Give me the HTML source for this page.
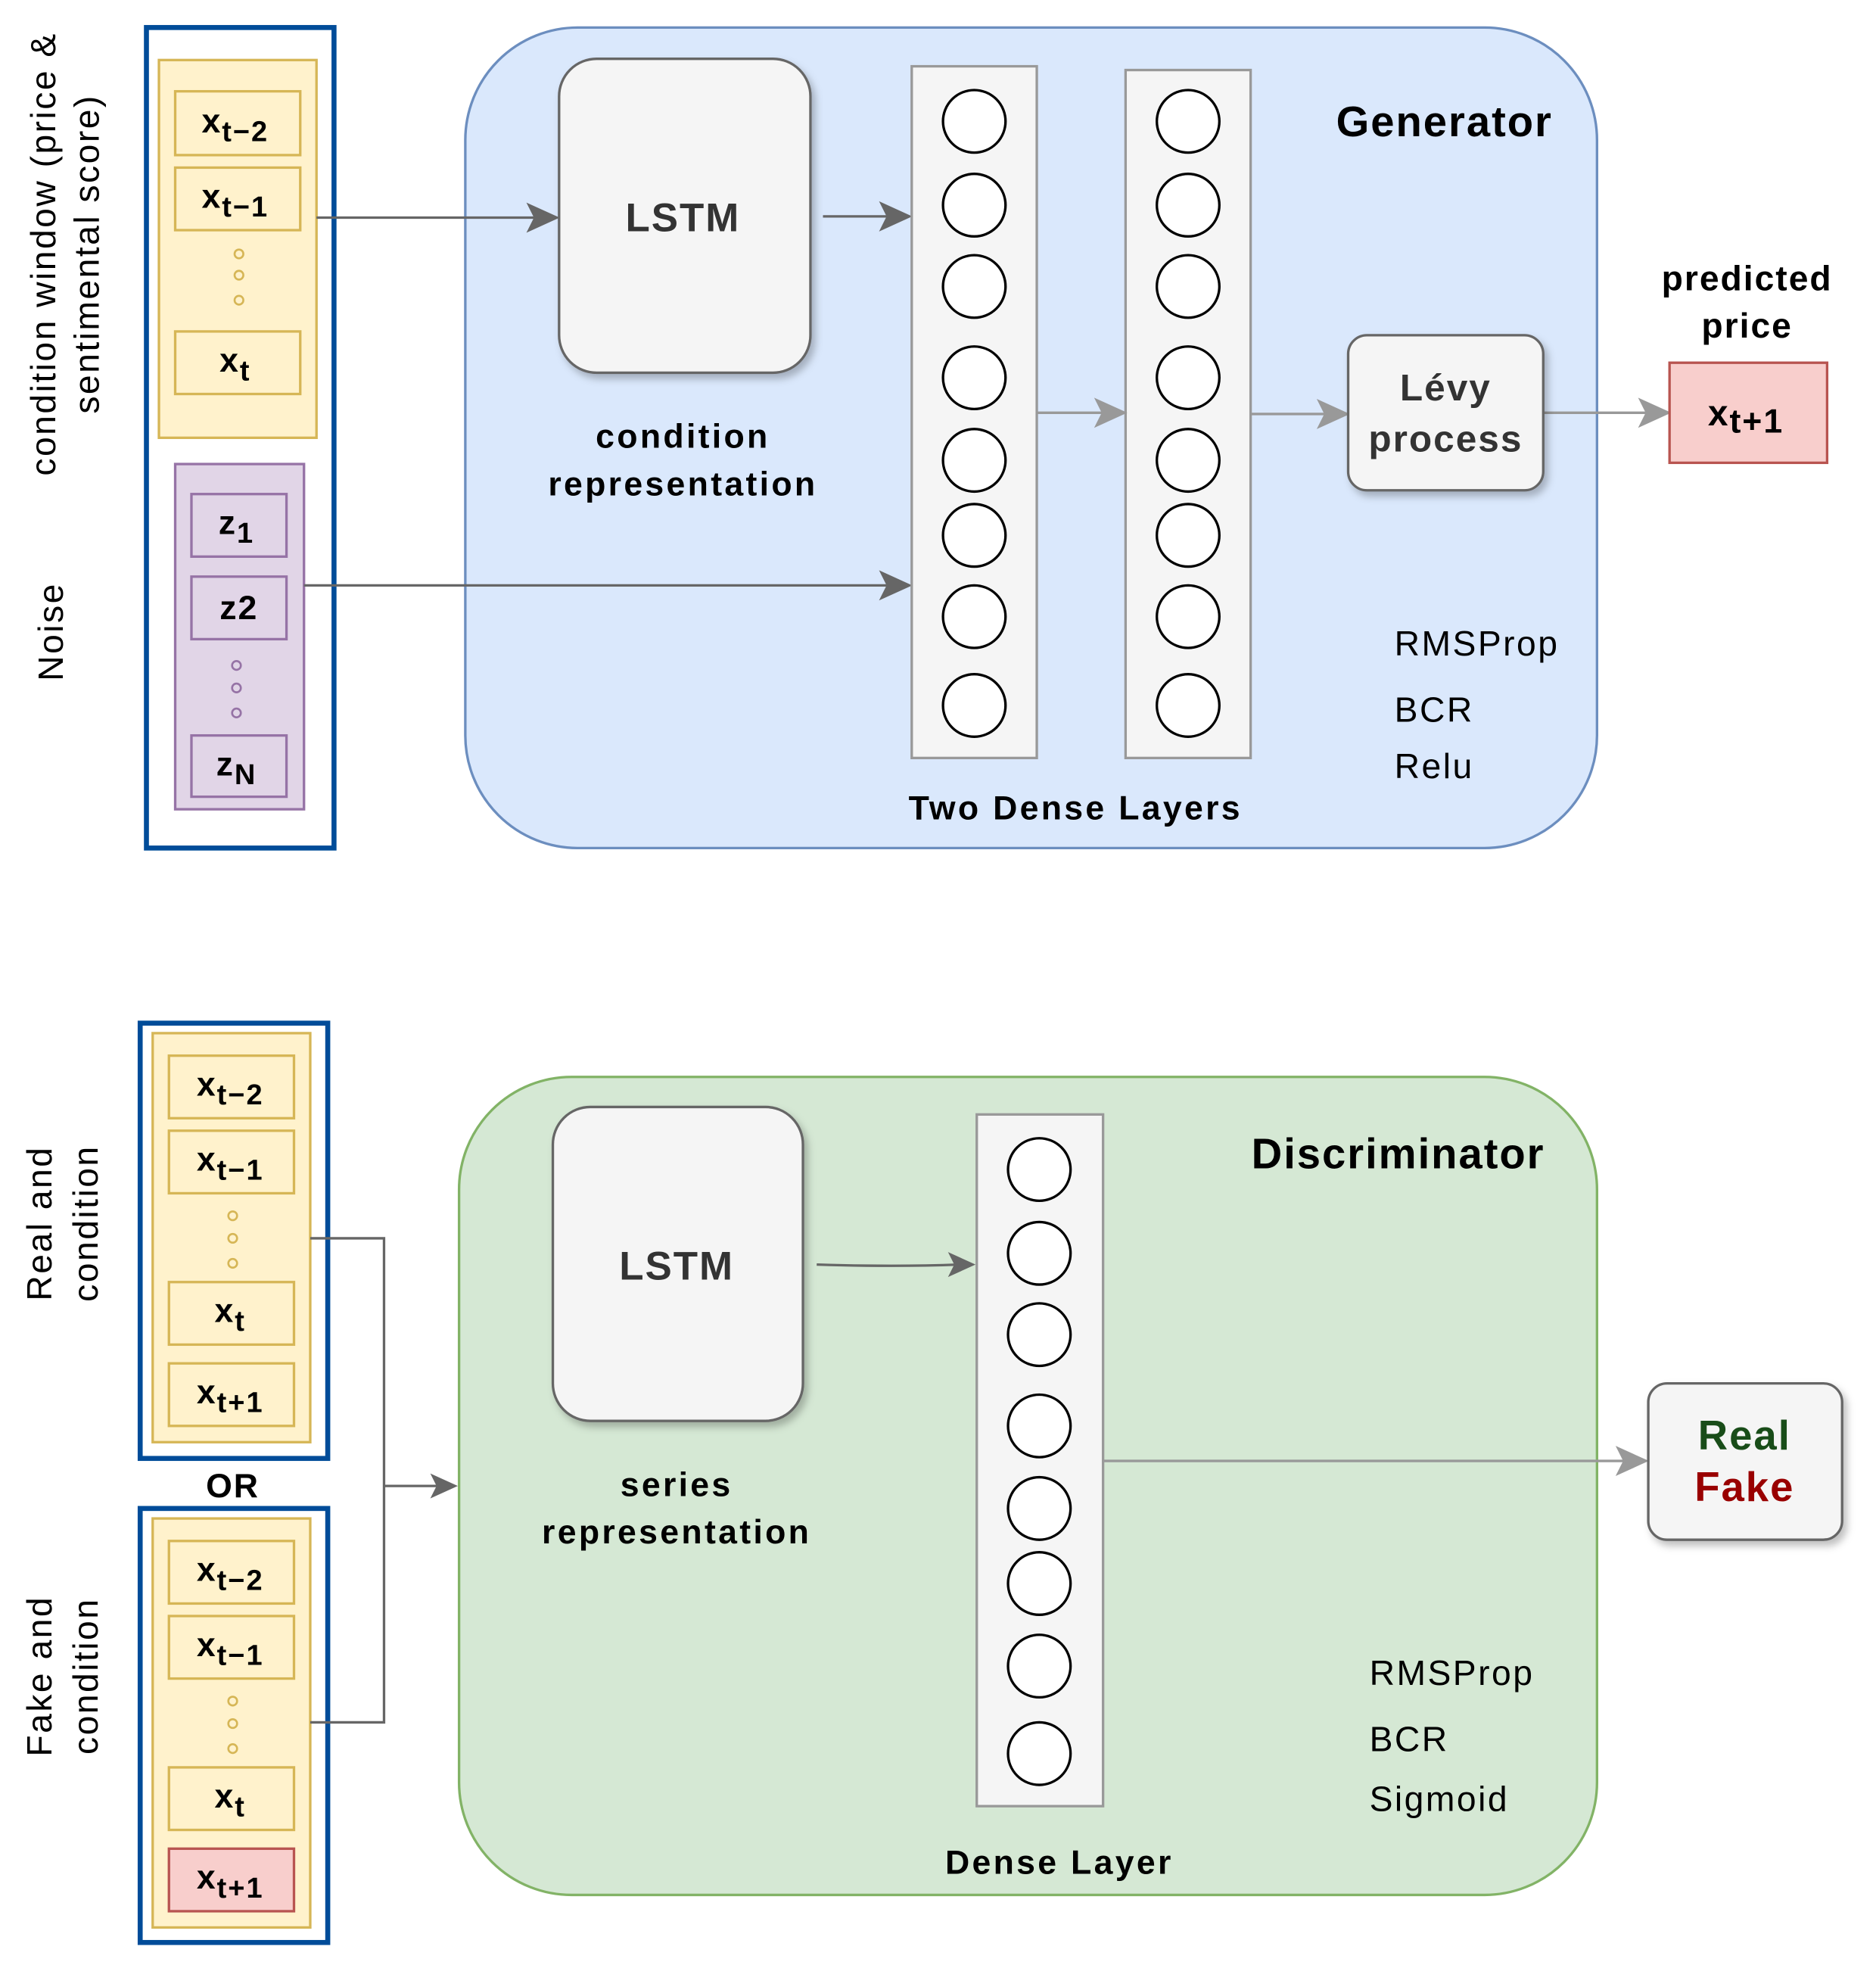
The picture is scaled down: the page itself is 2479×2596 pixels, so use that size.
<!DOCTYPE html>
<html><head><meta charset="utf-8"><style>
html,body{margin:0;padding:0;background:#fff}
svg{display:block}
text{font-family:"Liberation Sans",Arial,sans-serif}
.b{font-weight:bold;letter-spacing:1.2px}
.n{letter-spacing:1.5px}
</style></head><body>
<svg width="2479" height="2596" viewBox="0 0 1500 1571" xmlns="http://www.w3.org/2000/svg">
<defs>
<filter id="sh" x="-20%" y="-20%" width="150%" height="150%"><feDropShadow dx="3" dy="4" stdDeviation="3" flood-color="#000" flood-opacity="0.25"/></filter>
</defs>

<!-- Generator -->
<rect x="372" y="22" width="905" height="656" rx="90" fill="#dae8fc" stroke="#6c8ebf" stroke-width="2"/>
<rect x="117" y="22" width="150" height="656" fill="#fff" stroke="#004c99" stroke-width="4"/>
<rect x="127" y="48" width="126" height="302" fill="#fff2cc" stroke="#d6b656" stroke-width="2"/>
<g fill="#fff2cc" stroke="#d6b656" stroke-width="2">
<rect x="140" y="73" width="100" height="51"/><rect x="140" y="134" width="100" height="50"/><rect x="140" y="265" width="100" height="50"/>
</g>
<g fill="none" stroke="#d6b656" stroke-width="1.6"><circle cx="191" cy="203" r="3.5"/><circle cx="191" cy="220" r="3.5"/><circle cx="191" cy="240" r="3.5"/></g>
<g class="b" font-size="27" text-anchor="middle" fill="#000">
<text x="188" y="106">x<tspan font-size="23" dy="7">t−2</tspan></text>
<text x="188" y="166">x<tspan font-size="23" dy="7">t−1</tspan></text>
<text x="188" y="297">x<tspan font-size="23" dy="7">t</tspan></text>
</g>
<rect x="140" y="371" width="103" height="276" fill="#e1d5e7" stroke="#9673a6" stroke-width="2"/>
<g fill="#e1d5e7" stroke="#9673a6" stroke-width="2">
<rect x="153" y="395" width="76" height="50"/><rect x="153" y="461" width="76" height="50"/><rect x="153" y="588" width="76" height="49"/>
</g>
<g fill="none" stroke="#9673a6" stroke-width="1.6"><circle cx="189" cy="532" r="3.5"/><circle cx="189" cy="550" r="3.5"/><circle cx="189" cy="570" r="3.5"/></g>
<g class="b" font-size="27" text-anchor="middle" fill="#000">
<text x="189" y="427">z<tspan font-size="23" dy="7">1</tspan></text>
<text x="191" y="495">z2</text>
<text x="189" y="620">z<tspan font-size="23" dy="7">N</tspan></text>
</g>
<g font-size="28" text-anchor="middle" fill="#000" class="n">
<text transform="translate(44,203) rotate(-90)">condition window (price &amp;</text>
<text transform="translate(79,203) rotate(-90)">sentimental score)</text>
<text transform="translate(50,505) rotate(-90)">Noise</text>
</g>

<g stroke="#666" stroke-width="2" fill="#666">
<line x1="253" y1="174" x2="432" y2="174"/><path d="M445,174 L423,164 L428,174 L423,184 Z"/>
<line x1="243" y1="468" x2="714" y2="468"/><path d="M727,468 L705,458 L710,468 L705,478 Z"/>
<line x1="658" y1="173" x2="714" y2="173"/><path d="M727,173 L705,163 L710,173 L705,183 Z"/>
</g>
<rect x="447" y="47" width="201" height="251" rx="30" fill="#f5f5f5" stroke="#666" stroke-width="2" filter="url(#sh)"/>
<text x="546" y="185" class="b" font-size="32" text-anchor="middle" fill="#333">LSTM</text>
<g class="b" font-size="27" text-anchor="middle" fill="#000" style="letter-spacing:2px">
<text x="546" y="358">condition</text><text x="546" y="396">representation</text>
</g>

<rect x="729" y="53" width="100" height="553" fill="#f5f5f5" stroke="#999" stroke-width="2"/>
<rect x="900" y="56" width="100" height="550" fill="#f5f5f5" stroke="#999" stroke-width="2"/>
<g fill="#fff" stroke="#000" stroke-width="2">
<circle cx="779" cy="97" r="25"/><circle cx="779" cy="164" r="25"/><circle cx="779" cy="229" r="25"/><circle cx="779" cy="302" r="25"/><circle cx="779" cy="368" r="25"/><circle cx="779" cy="428" r="25"/><circle cx="779" cy="493" r="25"/><circle cx="779" cy="564" r="25"/>
<circle cx="950" cy="97" r="25"/><circle cx="950" cy="164" r="25"/><circle cx="950" cy="229" r="25"/><circle cx="950" cy="302" r="25"/><circle cx="950" cy="368" r="25"/><circle cx="950" cy="428" r="25"/><circle cx="950" cy="493" r="25"/><circle cx="950" cy="564" r="25"/>
</g>
<g stroke="#999" stroke-width="2" fill="#999">
<line x1="829" y1="330" x2="886" y2="330"/><path d="M899,330 L877,320 L882,330 L877,340 Z"/>
<line x1="1000" y1="331" x2="1064" y2="331"/><path d="M1077,331 L1055,321 L1060,331 L1055,341 Z"/>
<line x1="1234" y1="330" x2="1321" y2="330"/><path d="M1334,330 L1312,320 L1317,330 L1312,340 Z"/>
</g>
<rect x="1078" y="268" width="156" height="124" rx="15" fill="#f5f5f5" stroke="#666" stroke-width="2" filter="url(#sh)"/>
<g class="b" font-size="30" text-anchor="middle" fill="#333">
<text x="1156" y="320">Lévy</text><text x="1156" y="361">process</text>
</g>
<rect x="1335" y="290" width="126" height="80" fill="#f8cecc" stroke="#b85450" stroke-width="2"/>
<text x="1396" y="340" class="b" font-size="29" text-anchor="middle">x<tspan font-size="27" dy="6">t+1</tspan></text>
<g class="b" font-size="28" text-anchor="middle"><text x="1397" y="232">predicted</text><text x="1397" y="270">price</text></g>
<text x="1155" y="109" class="b" font-size="34" text-anchor="middle">Generator</text>
<g font-size="28" class="n"><text x="1115" y="524">RMSProp</text><text x="1115" y="577">BCR</text><text x="1115" y="622">Relu</text></g>
<text x="860" y="655" class="b" font-size="27" text-anchor="middle" style="letter-spacing:2px">Two Dense Layers</text>

<!-- Discriminator -->
<rect x="367" y="861" width="910" height="654" rx="90" fill="#d5e8d4" stroke="#82b366" stroke-width="2"/>
<rect x="112" y="818" width="150" height="348" fill="#fff" stroke="#004c99" stroke-width="4"/>
<rect x="122" y="826" width="126" height="327" fill="#fff2cc" stroke="#d6b656" stroke-width="2"/>
<rect x="112" y="1206" width="150" height="347" fill="#fff" stroke="#004c99" stroke-width="4"/>
<rect x="122" y="1214" width="126" height="327" fill="#fff2cc" stroke="#d6b656" stroke-width="2"/>
<g fill="#fff2cc" stroke="#d6b656" stroke-width="2">
<rect x="135" y="844" width="100" height="50"/><rect x="135" y="904" width="100" height="50"/><rect x="135" y="1025" width="100" height="50"/><rect x="135" y="1090" width="100" height="50"/>
<rect x="135" y="1232" width="100" height="50"/><rect x="135" y="1292" width="100" height="50"/><rect x="135" y="1413" width="100" height="50"/>
</g>
<rect x="135" y="1478" width="100" height="50" fill="#f8cecc" stroke="#b85450" stroke-width="2"/>
<g fill="none" stroke="#d6b656" stroke-width="1.6">
<circle cx="186" cy="972" r="3.5"/><circle cx="186" cy="990" r="3.5"/><circle cx="186" cy="1010" r="3.5"/>
<circle cx="186" cy="1360" r="3.5"/><circle cx="186" cy="1378" r="3.5"/><circle cx="186" cy="1398" r="3.5"/>
</g>
<g class="b" font-size="27" text-anchor="middle" fill="#000">
<text x="184" y="876">x<tspan font-size="23" dy="7">t−2</tspan></text>
<text x="184" y="936">x<tspan font-size="23" dy="7">t−1</tspan></text>
<text x="184" y="1057">x<tspan font-size="23" dy="7">t</tspan></text>
<text x="184" y="1122">x<tspan font-size="23" dy="7">t+1</tspan></text>
<text x="184" y="1264">x<tspan font-size="23" dy="7">t−2</tspan></text>
<text x="184" y="1324">x<tspan font-size="23" dy="7">t−1</tspan></text>
<text x="184" y="1445">x<tspan font-size="23" dy="7">t</tspan></text>
<text x="184" y="1510">x<tspan font-size="23" dy="7">t+1</tspan></text>
<text x="186" y="1197">OR</text>
</g>
<g font-size="28" text-anchor="middle" fill="#000" class="n">
<text transform="translate(41,978) rotate(-90)">Real and</text>
<text transform="translate(78,978) rotate(-90)">condition</text>
<text transform="translate(41,1340) rotate(-90)">Fake and</text>
<text transform="translate(78,1340) rotate(-90)">condition</text>
</g>
<g stroke="#666" stroke-width="2" fill="none">
<polyline points="248,990 307,990 307,1377 248,1377"/>
<line x1="307" y1="1188" x2="352" y2="1188"/>
<path d="M653,1011 Q715,1013 767,1011"/>
</g>
<g fill="#666"><path d="M366,1188 L344,1178 L349,1188 L344,1198 Z"/><path d="M780,1011 L758,1001 L763,1011 L758,1021 Z"/></g>
<rect x="442" y="885" width="200" height="251" rx="30" fill="#f5f5f5" stroke="#666" stroke-width="2" filter="url(#sh)"/>
<text x="541" y="1023" class="b" font-size="32" text-anchor="middle" fill="#333">LSTM</text>
<g class="b" font-size="27" text-anchor="middle" style="letter-spacing:2px"><text x="541" y="1196">series</text><text x="541" y="1234">representation</text></g>
<rect x="781" y="891" width="101" height="553" fill="#f5f5f5" stroke="#999" stroke-width="2"/>
<g fill="#fff" stroke="#000" stroke-width="2">
<circle cx="831" cy="935" r="25"/><circle cx="831" cy="1002" r="25"/><circle cx="831" cy="1067" r="25"/><circle cx="831" cy="1140" r="25"/><circle cx="831" cy="1206" r="25"/><circle cx="831" cy="1266" r="25"/><circle cx="831" cy="1332" r="25"/><circle cx="831" cy="1402" r="25"/>
</g>
<g stroke="#999" stroke-width="2" fill="#999">
<line x1="882" y1="1168" x2="1303" y2="1168"/><path d="M1316,1168 L1294,1158 L1299,1168 L1294,1178 Z"/>
</g>
<rect x="1318" y="1106" width="155" height="125" rx="15" fill="#f5f5f5" stroke="#666" stroke-width="2" filter="url(#sh)"/>
<g class="b" font-size="33" text-anchor="middle">
<text x="1395" y="1159" fill="#194d19">Real</text><text x="1395" y="1200" fill="#990000">Fake</text>
</g>
<text x="1118" y="934" class="b" font-size="34" text-anchor="middle">Discriminator</text>
<g font-size="28" class="n"><text x="1095" y="1347">RMSProp</text><text x="1095" y="1400">BCR</text><text x="1095" y="1448">Sigmoid</text></g>
<text x="847" y="1498" class="b" font-size="27" text-anchor="middle" style="letter-spacing:2px">Dense Layer</text>
</svg>
</body></html>
